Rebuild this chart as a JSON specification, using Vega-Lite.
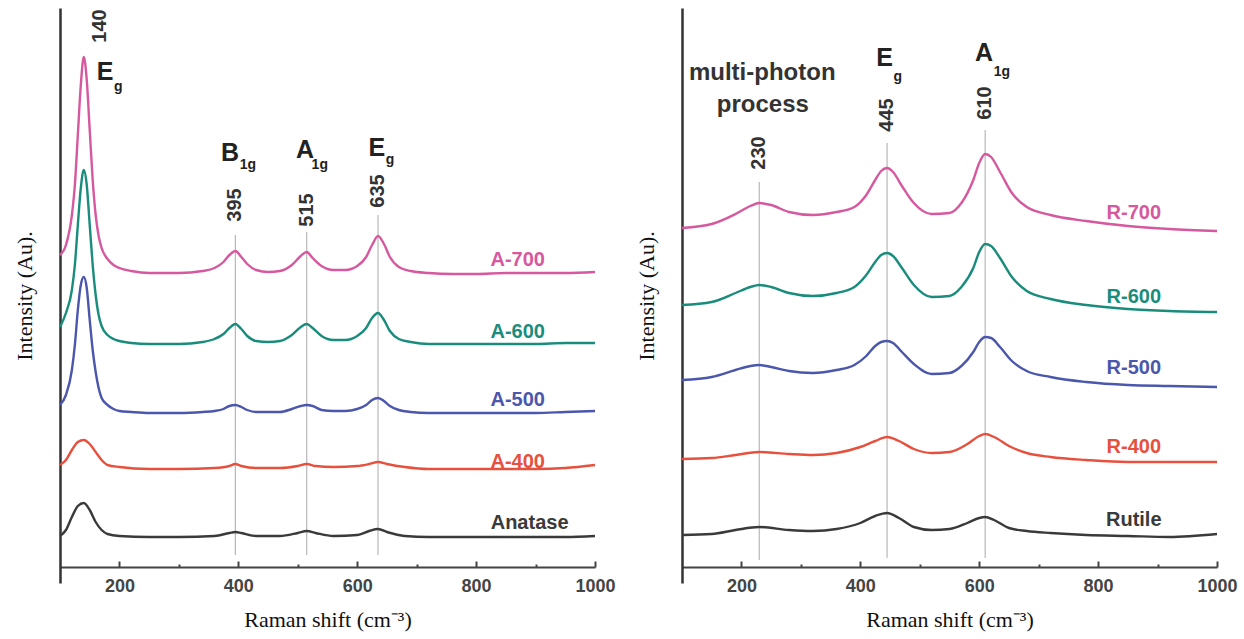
{
"$schema":"https://vega.github.io/schema/vega-lite/v6.json",
"background":"white",
"padding":{"left":13,"top":8,"right":5,"bottom":5},
"spacing":19,
"config":{"view":{"stroke":null},"font":"Liberation Sans","axis":{"grid":false}},
"datasets":{
"L":[
{"s":"A-700","x":100,"y":328},{"s":"A-700","x":110,"y":338},{"s":"A-700","x":120,"y":368},{"s":"A-700","x":125,"y":398},{"s":"A-700","x":130,"y":448},{"s":"A-700","x":135,"y":498},{"s":"A-700","x":140,"y":526},{"s":"A-700","x":145,"y":503},{"s":"A-700","x":150,"y":453},{"s":"A-700","x":155,"y":403},{"s":"A-700","x":160,"y":368},{"s":"A-700","x":165,"y":347},{"s":"A-700","x":170,"y":335},{"s":"A-700","x":180,"y":324},{"s":"A-700","x":190,"y":318},{"s":"A-700","x":200,"y":315},{"s":"A-700","x":220,"y":312},{"s":"A-700","x":250,"y":310},{"s":"A-700","x":300,"y":310},{"s":"A-700","x":340,"y":312},{"s":"A-700","x":360,"y":315},{"s":"A-700","x":375,"y":321},{"s":"A-700","x":385,"y":328},{"s":"A-700","x":395,"y":332},{"s":"A-700","x":405,"y":326},{"s":"A-700","x":415,"y":319},{"s":"A-700","x":430,"y":313},{"s":"A-700","x":450,"y":311},{"s":"A-700","x":470,"y":312},{"s":"A-700","x":490,"y":318},{"s":"A-700","x":505,"y":327},{"s":"A-700","x":515,"y":331},{"s":"A-700","x":525,"y":325},{"s":"A-700","x":540,"y":317},{"s":"A-700","x":560,"y":313},{"s":"A-700","x":580,"y":313},{"s":"A-700","x":600,"y":317},{"s":"A-700","x":615,"y":326},{"s":"A-700","x":625,"y":338},{"s":"A-700","x":635,"y":347},{"s":"A-700","x":645,"y":339},{"s":"A-700","x":655,"y":326},{"s":"A-700","x":670,"y":316},{"s":"A-700","x":690,"y":312},{"s":"A-700","x":720,"y":310},{"s":"A-700","x":760,"y":309},{"s":"A-700","x":800,"y":309},{"s":"A-700","x":850,"y":310},{"s":"A-700","x":900,"y":310},{"s":"A-700","x":950,"y":310},{"s":"A-700","x":1000,"y":311},
{"s":"A-600","x":100,"y":256},{"s":"A-600","x":110,"y":270},{"s":"A-600","x":120,"y":293},{"s":"A-600","x":125,"y":318},{"s":"A-600","x":130,"y":358},{"s":"A-600","x":135,"y":395},{"s":"A-600","x":140,"y":413},{"s":"A-600","x":145,"y":398},{"s":"A-600","x":150,"y":358},{"s":"A-600","x":155,"y":318},{"s":"A-600","x":160,"y":288},{"s":"A-600","x":165,"y":268},{"s":"A-600","x":170,"y":257},{"s":"A-600","x":180,"y":248},{"s":"A-600","x":190,"y":244},{"s":"A-600","x":200,"y":242},{"s":"A-600","x":220,"y":240},{"s":"A-600","x":250,"y":239},{"s":"A-600","x":300,"y":239},{"s":"A-600","x":340,"y":241},{"s":"A-600","x":360,"y":244},{"s":"A-600","x":375,"y":249},{"s":"A-600","x":385,"y":255},{"s":"A-600","x":395,"y":259},{"s":"A-600","x":405,"y":254},{"s":"A-600","x":415,"y":247},{"s":"A-600","x":430,"y":242},{"s":"A-600","x":450,"y":241},{"s":"A-600","x":470,"y":242},{"s":"A-600","x":490,"y":248},{"s":"A-600","x":505,"y":256},{"s":"A-600","x":515,"y":259},{"s":"A-600","x":525,"y":255},{"s":"A-600","x":540,"y":247},{"s":"A-600","x":560,"y":243},{"s":"A-600","x":580,"y":243},{"s":"A-600","x":600,"y":247},{"s":"A-600","x":615,"y":255},{"s":"A-600","x":625,"y":265},{"s":"A-600","x":635,"y":270},{"s":"A-600","x":645,"y":263},{"s":"A-600","x":655,"y":252},{"s":"A-600","x":670,"y":244},{"s":"A-600","x":690,"y":241},{"s":"A-600","x":720,"y":239},{"s":"A-600","x":760,"y":239},{"s":"A-600","x":800,"y":239},{"s":"A-600","x":850,"y":239},{"s":"A-600","x":900,"y":239},{"s":"A-600","x":950,"y":240},{"s":"A-600","x":1000,"y":240},
{"s":"A-500","x":100,"y":178},{"s":"A-500","x":110,"y":188},{"s":"A-500","x":120,"y":213},{"s":"A-500","x":125,"y":238},{"s":"A-500","x":130,"y":273},{"s":"A-500","x":135,"y":298},{"s":"A-500","x":140,"y":306},{"s":"A-500","x":145,"y":295},{"s":"A-500","x":150,"y":263},{"s":"A-500","x":155,"y":233},{"s":"A-500","x":160,"y":211},{"s":"A-500","x":165,"y":195},{"s":"A-500","x":170,"y":185},{"s":"A-500","x":180,"y":178},{"s":"A-500","x":190,"y":174},{"s":"A-500","x":200,"y":172},{"s":"A-500","x":220,"y":171},{"s":"A-500","x":250,"y":170},{"s":"A-500","x":300,"y":170},{"s":"A-500","x":340,"y":171},{"s":"A-500","x":360,"y":172},{"s":"A-500","x":375,"y":174},{"s":"A-500","x":385,"y":177},{"s":"A-500","x":395,"y":178},{"s":"A-500","x":405,"y":176},{"s":"A-500","x":415,"y":173},{"s":"A-500","x":430,"y":171},{"s":"A-500","x":450,"y":171},{"s":"A-500","x":470,"y":171},{"s":"A-500","x":490,"y":174},{"s":"A-500","x":505,"y":177},{"s":"A-500","x":515,"y":178},{"s":"A-500","x":525,"y":177},{"s":"A-500","x":540,"y":173},{"s":"A-500","x":560,"y":172},{"s":"A-500","x":580,"y":172},{"s":"A-500","x":600,"y":174},{"s":"A-500","x":615,"y":178},{"s":"A-500","x":625,"y":183},{"s":"A-500","x":635,"y":185},{"s":"A-500","x":645,"y":182},{"s":"A-500","x":655,"y":177},{"s":"A-500","x":670,"y":173},{"s":"A-500","x":690,"y":171},{"s":"A-500","x":720,"y":170},{"s":"A-500","x":760,"y":170},{"s":"A-500","x":800,"y":170},{"s":"A-500","x":850,"y":170},{"s":"A-500","x":900,"y":170},{"s":"A-500","x":950,"y":171},{"s":"A-500","x":1000,"y":172},
{"s":"A-400","x":100,"y":118},{"s":"A-400","x":110,"y":123},{"s":"A-400","x":120,"y":133},{"s":"A-400","x":130,"y":141},{"s":"A-400","x":140,"y":143},{"s":"A-400","x":150,"y":139},{"s":"A-400","x":160,"y":131},{"s":"A-400","x":170,"y":123},{"s":"A-400","x":180,"y":118},{"s":"A-400","x":200,"y":116},{"s":"A-400","x":250,"y":114},{"s":"A-400","x":300,"y":114},{"s":"A-400","x":360,"y":115},{"s":"A-400","x":385,"y":117},{"s":"A-400","x":395,"y":119},{"s":"A-400","x":405,"y":117},{"s":"A-400","x":430,"y":115},{"s":"A-400","x":470,"y":115},{"s":"A-400","x":500,"y":117},{"s":"A-400","x":515,"y":119},{"s":"A-400","x":530,"y":117},{"s":"A-400","x":560,"y":116},{"s":"A-400","x":600,"y":117},{"s":"A-400","x":620,"y":119},{"s":"A-400","x":635,"y":121},{"s":"A-400","x":650,"y":119},{"s":"A-400","x":680,"y":116},{"s":"A-400","x":720,"y":114},{"s":"A-400","x":800,"y":114},{"s":"A-400","x":900,"y":114},{"s":"A-400","x":950,"y":115},{"s":"A-400","x":1000,"y":118},
{"s":"Anatase","x":100,"y":47},{"s":"Anatase","x":110,"y":53},{"s":"Anatase","x":120,"y":66},{"s":"Anatase","x":130,"y":77},{"s":"Anatase","x":140,"y":80},{"s":"Anatase","x":150,"y":73},{"s":"Anatase","x":160,"y":61},{"s":"Anatase","x":170,"y":53},{"s":"Anatase","x":180,"y":49},{"s":"Anatase","x":200,"y":47},{"s":"Anatase","x":250,"y":46},{"s":"Anatase","x":300,"y":46},{"s":"Anatase","x":360,"y":47},{"s":"Anatase","x":385,"y":50},{"s":"Anatase","x":395,"y":51},{"s":"Anatase","x":405,"y":50},{"s":"Anatase","x":430,"y":47},{"s":"Anatase","x":470,"y":47},{"s":"Anatase","x":500,"y":50},{"s":"Anatase","x":515,"y":52},{"s":"Anatase","x":530,"y":50},{"s":"Anatase","x":560,"y":47},{"s":"Anatase","x":600,"y":48},{"s":"Anatase","x":620,"y":52},{"s":"Anatase","x":635,"y":54},{"s":"Anatase","x":650,"y":51},{"s":"Anatase","x":680,"y":47},{"s":"Anatase","x":720,"y":46},{"s":"Anatase","x":800,"y":46},{"s":"Anatase","x":900,"y":46},{"s":"Anatase","x":950,"y":46},{"s":"Anatase","x":1000,"y":47}
],
"R":[
{"s":"R-700","x":100,"y":355},{"s":"R-700","x":150,"y":359},{"s":"R-700","x":190,"y":369},{"s":"R-700","x":215,"y":377},{"s":"R-700","x":230,"y":380},{"s":"R-700","x":250,"y":378},{"s":"R-700","x":280,"y":371},{"s":"R-700","x":320,"y":368},{"s":"R-700","x":360,"y":371},{"s":"R-700","x":390,"y":376},{"s":"R-700","x":410,"y":388},{"s":"R-700","x":425,"y":403},{"s":"R-700","x":435,"y":412},{"s":"R-700","x":445,"y":415},{"s":"R-700","x":455,"y":411},{"s":"R-700","x":470,"y":397},{"s":"R-700","x":490,"y":380},{"s":"R-700","x":520,"y":369},{"s":"R-700","x":550,"y":370},{"s":"R-700","x":570,"y":380},{"s":"R-700","x":590,"y":403},{"s":"R-700","x":600,"y":420},{"s":"R-700","x":610,"y":429},{"s":"R-700","x":620,"y":426},{"s":"R-700","x":635,"y":411},{"s":"R-700","x":655,"y":390},{"s":"R-700","x":680,"y":376},{"s":"R-700","x":720,"y":368},{"s":"R-700","x":780,"y":362},{"s":"R-700","x":850,"y":357},{"s":"R-700","x":920,"y":354},{"s":"R-700","x":1000,"y":352},
{"s":"R-600","x":100,"y":278},{"s":"R-600","x":150,"y":281},{"s":"R-600","x":190,"y":290},{"s":"R-600","x":215,"y":296},{"s":"R-600","x":230,"y":298},{"s":"R-600","x":250,"y":296},{"s":"R-600","x":280,"y":290},{"s":"R-600","x":320,"y":287},{"s":"R-600","x":360,"y":290},{"s":"R-600","x":390,"y":296},{"s":"R-600","x":410,"y":308},{"s":"R-600","x":425,"y":321},{"s":"R-600","x":435,"y":328},{"s":"R-600","x":445,"y":330},{"s":"R-600","x":455,"y":327},{"s":"R-600","x":470,"y":315},{"s":"R-600","x":490,"y":298},{"s":"R-600","x":520,"y":286},{"s":"R-600","x":550,"y":287},{"s":"R-600","x":570,"y":296},{"s":"R-600","x":590,"y":315},{"s":"R-600","x":600,"y":331},{"s":"R-600","x":610,"y":339},{"s":"R-600","x":620,"y":337},{"s":"R-600","x":635,"y":325},{"s":"R-600","x":655,"y":306},{"s":"R-600","x":680,"y":292},{"s":"R-600","x":720,"y":284},{"s":"R-600","x":780,"y":278},{"s":"R-600","x":850,"y":274},{"s":"R-600","x":920,"y":272},{"s":"R-600","x":1000,"y":271},
{"s":"R-500","x":100,"y":203},{"s":"R-500","x":150,"y":206},{"s":"R-500","x":190,"y":213},{"s":"R-500","x":215,"y":217},{"s":"R-500","x":230,"y":218},{"s":"R-500","x":250,"y":216},{"s":"R-500","x":280,"y":212},{"s":"R-500","x":320,"y":210},{"s":"R-500","x":360,"y":213},{"s":"R-500","x":390,"y":218},{"s":"R-500","x":410,"y":227},{"s":"R-500","x":425,"y":237},{"s":"R-500","x":435,"y":241},{"s":"R-500","x":445,"y":242},{"s":"R-500","x":455,"y":240},{"s":"R-500","x":470,"y":231},{"s":"R-500","x":490,"y":219},{"s":"R-500","x":520,"y":209},{"s":"R-500","x":550,"y":210},{"s":"R-500","x":570,"y":217},{"s":"R-500","x":590,"y":231},{"s":"R-500","x":600,"y":241},{"s":"R-500","x":610,"y":246},{"s":"R-500","x":620,"y":245},{"s":"R-500","x":635,"y":236},{"s":"R-500","x":655,"y":222},{"s":"R-500","x":680,"y":212},{"s":"R-500","x":720,"y":206},{"s":"R-500","x":780,"y":201},{"s":"R-500","x":850,"y":198},{"s":"R-500","x":920,"y":197},{"s":"R-500","x":1000,"y":196},
{"s":"R-400","x":100,"y":124},{"s":"R-400","x":150,"y":125},{"s":"R-400","x":190,"y":128},{"s":"R-400","x":230,"y":131},{"s":"R-400","x":280,"y":129},{"s":"R-400","x":320,"y":128},{"s":"R-400","x":360,"y":130},{"s":"R-400","x":400,"y":136},{"s":"R-400","x":425,"y":142},{"s":"R-400","x":445,"y":146},{"s":"R-400","x":465,"y":142},{"s":"R-400","x":490,"y":134},{"s":"R-400","x":520,"y":130},{"s":"R-400","x":550,"y":131},{"s":"R-400","x":580,"y":139},{"s":"R-400","x":600,"y":147},{"s":"R-400","x":610,"y":149},{"s":"R-400","x":625,"y":146},{"s":"R-400","x":650,"y":137},{"s":"R-400","x":680,"y":130},{"s":"R-400","x":720,"y":126},{"s":"R-400","x":780,"y":123},{"s":"R-400","x":850,"y":121},{"s":"R-400","x":920,"y":121},{"s":"R-400","x":1000,"y":121},
{"s":"Rutile","x":100,"y":48},{"s":"Rutile","x":150,"y":49},{"s":"Rutile","x":190,"y":53},{"s":"Rutile","x":230,"y":56},{"s":"Rutile","x":280,"y":53},{"s":"Rutile","x":320,"y":52},{"s":"Rutile","x":360,"y":54},{"s":"Rutile","x":400,"y":60},{"s":"Rutile","x":425,"y":67},{"s":"Rutile","x":445,"y":70},{"s":"Rutile","x":465,"y":65},{"s":"Rutile","x":490,"y":56},{"s":"Rutile","x":520,"y":53},{"s":"Rutile","x":550,"y":54},{"s":"Rutile","x":580,"y":60},{"s":"Rutile","x":600,"y":65},{"s":"Rutile","x":610,"y":66},{"s":"Rutile","x":625,"y":63},{"s":"Rutile","x":650,"y":55},{"s":"Rutile","x":680,"y":52},{"s":"Rutile","x":720,"y":50},{"s":"Rutile","x":780,"y":48},{"s":"Rutile","x":850,"y":47},{"s":"Rutile","x":920,"y":46},{"s":"Rutile","x":1000,"y":49}
],
"Lguide":[{"x":395,"y1":28,"y2":348},{"x":515,"y1":28,"y2":351},{"x":635,"y1":28,"y2":368}],
"Rguide":[{"x":230,"y1":23,"y2":401},{"x":445,"y1":25,"y2":440},{"x":610,"y1":25,"y2":453}],
"Lnum":[{"x":167,"y":557,"t":"140"},{"x":395,"y":378,"t":"395"},{"x":515,"y":373,"t":"515"},{"x":635,"y":392,"t":"635"}],
"Rnum":[{"x":230,"y":430,"t":"230"},{"x":445,"y":468,"t":"445"},{"x":610,"y":480,"t":"610"}],
"Lmode":[{"x":176,"y":511,"t":"E"},{"x":386,"y":430,"t":"B"},{"x":512,"y":433,"t":"A"},{"x":633,"y":435,"t":"E"}],
"Lsub":[{"x":198,"y":496,"t":"g"},{"x":416,"y":418,"t":"1g"},{"x":537,"y":418,"t":"1g"},{"x":655,"y":423,"t":"g"}],
"Rmode":[{"x":441,"y":525,"t":"E"},{"x":608,"y":530,"t":"A"}],
"Rsub":[{"x":463,"y":506,"t":"g"},{"x":638,"y":511,"t":"1g"}],
"Rnote":[{"x":235,"y":510,"t":"multi-photon"},{"x":236,"y":478,"t":"process"}],
"Llab":[{"s":"A-700","x":870,"y":323},{"s":"A-600","x":870,"y":251},{"s":"A-500","x":870,"y":183},{"s":"A-400","x":870,"y":121},{"s":"Anatase","x":890,"y":60}],
"Rlab":[{"s":"R-700","x":860,"y":370},{"s":"R-600","x":860,"y":286},{"s":"R-500","x":860,"y":215},{"s":"R-400","x":860,"y":136},{"s":"Rutile","x":860,"y":63}]
},
"hconcat":[
{
"width":535,"height":575,
"resolve":{"axis":{"x":"independent","y":"independent"}},
"layer":[
{"data":{"name":"Lguide"},"mark":{"type":"rule","color":"#b8b8b8","strokeWidth":1.2},
 "encoding":{"x":{"field":"x","type":"quantitative","scale":{"domain":[100,1000],"nice":false,"zero":false},
   "axis":{"orient":"bottom","offset":-16,"title":null,"values":[300,500,700,900],"tickSize":-3,"tickWidth":2,"tickColor":"#444","labels":false,"domain":false,"grid":false}},
  "y":{"field":"y1","type":"quantitative","scale":{"domain":[0,575],"nice":false,"zero":false},"axis":null},
  "y2":{"field":"y2"}}},
{"data":{"name":"L"},"mark":{"type":"line","strokeWidth":2.4,"interpolate":"monotone"},
 "encoding":{"x":{"field":"x","type":"quantitative","scale":{"domain":[100,1000],"nice":false,"zero":false},
   "axis":{"orient":"bottom","offset":-16,"format":"d","title":"Raman shift (cm⁻³)","titleFont":"Liberation Serif","titleFontSize":22,"titleFontWeight":"normal","titleColor":"#111","titlePadding":14,"values":[200,400,600,800,1000],"tickSize":-6,"tickWidth":2,"tickColor":"#444","domainColor":"#444","domainWidth":2,"labelFont":"Liberation Sans","labelFontWeight":"bold","labelFontSize":18,"labelColor":"#444","labelPadding":16,"labelFlush":false,"labelOverlap":false,"grid":false}},
  "y":{"field":"y","type":"quantitative","scale":{"domain":[0,575],"nice":false,"zero":false},
   "axis":{"orient":"left","title":"Intensity (Au).","titleFont":"Liberation Serif","titleFontSize":22,"titleFontWeight":"normal","titleColor":"#111","titlePadding":24,"ticks":false,"labels":false,"domainColor":"#333","domainWidth":2.5,"grid":false}},
  "color":{"field":"s","type":"nominal","scale":{"domain":["A-700","A-600","A-500","A-400","Anatase"],"range":["#d6589e","#1a8c7c","#4b56ad","#e8503e","#3a3a3a"]},"legend":null}}},
{"data":{"name":"Llab"},"mark":{"type":"text","fontWeight":"bold","fontSize":20,"align":"center","baseline":"middle"},
 "encoding":{"x":{"field":"x","type":"quantitative","scale":{"domain":[100,1000],"nice":false,"zero":false},"axis":null},
  "y":{"field":"y","type":"quantitative","scale":{"domain":[0,575],"nice":false,"zero":false},"axis":null},
  "text":{"field":"s"},
  "color":{"field":"s","type":"nominal","scale":{"domain":["A-700","A-600","A-500","A-400","Anatase"],"range":["#d6589e","#1a8c7c","#4b56ad","#e8503e","#3a3a3a"]},"legend":null}}},
{"data":{"name":"Lnum"},"mark":{"type":"text","fontWeight":"bold","fontSize":20,"angle":270,"align":"center","baseline":"middle","color":"#333"},
 "encoding":{"x":{"field":"x","type":"quantitative","scale":{"domain":[100,1000],"nice":false,"zero":false},"axis":null},
  "y":{"field":"y","type":"quantitative","scale":{"domain":[0,575],"nice":false,"zero":false},"axis":null},
  "text":{"field":"t"}}},
{"data":{"name":"Lmode"},"mark":{"type":"text","fontWeight":"bold","fontSize":25,"align":"center","baseline":"middle","color":"#222"},
 "encoding":{"x":{"field":"x","type":"quantitative","scale":{"domain":[100,1000],"nice":false,"zero":false},"axis":null},
  "y":{"field":"y","type":"quantitative","scale":{"domain":[0,575],"nice":false,"zero":false},"axis":null},
  "text":{"field":"t"}}},
{"data":{"name":"Lsub"},"mark":{"type":"text","fontWeight":"bold","fontSize":14,"align":"center","baseline":"middle","color":"#222"},
 "encoding":{"x":{"field":"x","type":"quantitative","scale":{"domain":[100,1000],"nice":false,"zero":false},"axis":null},
  "y":{"field":"y","type":"quantitative","scale":{"domain":[0,575],"nice":false,"zero":false},"axis":null},
  "text":{"field":"t"}}}
]
},
{
"width":535,"height":575,
"resolve":{"axis":{"x":"independent","y":"independent"}},
"layer":[
{"data":{"name":"Rguide"},"mark":{"type":"rule","color":"#b8b8b8","strokeWidth":1.2},
 "encoding":{"x":{"field":"x","type":"quantitative","scale":{"domain":[100,1000],"nice":false,"zero":false},
   "axis":{"orient":"bottom","offset":-16,"title":null,"values":[300,500,700,900],"tickSize":-3,"tickWidth":2,"tickColor":"#444","labels":false,"domain":false,"grid":false}},
  "y":{"field":"y1","type":"quantitative","scale":{"domain":[0,575],"nice":false,"zero":false},"axis":null},
  "y2":{"field":"y2"}}},
{"data":{"name":"R"},"mark":{"type":"line","strokeWidth":2.4,"interpolate":"monotone"},
 "encoding":{"x":{"field":"x","type":"quantitative","scale":{"domain":[100,1000],"nice":false,"zero":false},
   "axis":{"orient":"bottom","offset":-16,"format":"d","title":"Raman shift (cm⁻³)","titleFont":"Liberation Serif","titleFontSize":22,"titleFontWeight":"normal","titleColor":"#111","titlePadding":14,"values":[200,400,600,800,1000],"tickSize":-6,"tickWidth":2,"tickColor":"#444","domainColor":"#444","domainWidth":2,"labelFont":"Liberation Sans","labelFontWeight":"bold","labelFontSize":18,"labelColor":"#444","labelPadding":16,"labelFlush":false,"labelOverlap":false,"grid":false}},
  "y":{"field":"y","type":"quantitative","scale":{"domain":[0,575],"nice":false,"zero":false},
   "axis":{"orient":"left","title":"Intensity (Au).","titleFont":"Liberation Serif","titleFontSize":22,"titleFontWeight":"normal","titleColor":"#111","titlePadding":24,"ticks":false,"labels":false,"domainColor":"#333","domainWidth":2.5,"grid":false}},
  "color":{"field":"s","type":"nominal","scale":{"domain":["R-700","R-600","R-500","R-400","Rutile"],"range":["#d6589e","#1a8c7c","#4b56ad","#e8503e","#3a3a3a"]},"legend":null}}},
{"data":{"name":"Rlab"},"mark":{"type":"text","fontWeight":"bold","fontSize":20,"align":"center","baseline":"middle"},
 "encoding":{"x":{"field":"x","type":"quantitative","scale":{"domain":[100,1000],"nice":false,"zero":false},"axis":null},
  "y":{"field":"y","type":"quantitative","scale":{"domain":[0,575],"nice":false,"zero":false},"axis":null},
  "text":{"field":"s"},
  "color":{"field":"s","type":"nominal","scale":{"domain":["R-700","R-600","R-500","R-400","Rutile"],"range":["#d6589e","#1a8c7c","#4b56ad","#e8503e","#3a3a3a"]},"legend":null}}},
{"data":{"name":"Rnum"},"mark":{"type":"text","fontWeight":"bold","fontSize":20,"angle":270,"align":"center","baseline":"middle","color":"#333"},
 "encoding":{"x":{"field":"x","type":"quantitative","scale":{"domain":[100,1000],"nice":false,"zero":false},"axis":null},
  "y":{"field":"y","type":"quantitative","scale":{"domain":[0,575],"nice":false,"zero":false},"axis":null},
  "text":{"field":"t"}}},
{"data":{"name":"Rmode"},"mark":{"type":"text","fontWeight":"bold","fontSize":25,"align":"center","baseline":"middle","color":"#222"},
 "encoding":{"x":{"field":"x","type":"quantitative","scale":{"domain":[100,1000],"nice":false,"zero":false},"axis":null},
  "y":{"field":"y","type":"quantitative","scale":{"domain":[0,575],"nice":false,"zero":false},"axis":null},
  "text":{"field":"t"}}},
{"data":{"name":"Rsub"},"mark":{"type":"text","fontWeight":"bold","fontSize":14,"align":"center","baseline":"middle","color":"#222"},
 "encoding":{"x":{"field":"x","type":"quantitative","scale":{"domain":[100,1000],"nice":false,"zero":false},"axis":null},
  "y":{"field":"y","type":"quantitative","scale":{"domain":[0,575],"nice":false,"zero":false},"axis":null},
  "text":{"field":"t"}}},
{"data":{"name":"Rnote"},"mark":{"type":"text","fontWeight":"bold","fontSize":24,"align":"center","baseline":"middle","color":"#333"},
 "encoding":{"x":{"field":"x","type":"quantitative","scale":{"domain":[100,1000],"nice":false,"zero":false},"axis":null},
  "y":{"field":"y","type":"quantitative","scale":{"domain":[0,575],"nice":false,"zero":false},"axis":null},
  "text":{"field":"t"}}}
]
}
]
}
